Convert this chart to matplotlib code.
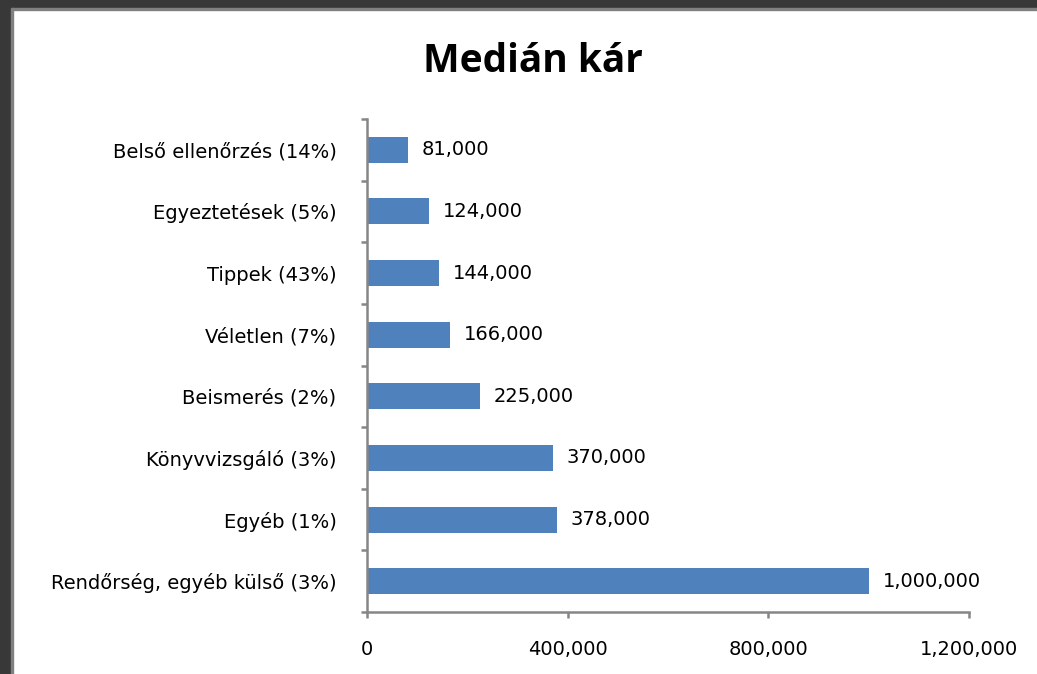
import matplotlib
matplotlib.use("Agg")
import matplotlib.pyplot as plt
from matplotlib.patches import Rectangle
from matplotlib.ticker import FuncFormatter

categories = ["Belső ellenőrzés (14%)", "Egyeztetések (5%)", "Tippek (43%)",
              "Véletlen (7%)", "Beismerés (2%)", "Könyvvizsgáló (3%)",
              "Egyéb (1%)", "Rendőrség, egyéb külső (3%)"]
values = [81000, 124000, 144000, 166000, 225000, 370000, 378000, 1000000]
xticks = [0, 400000, 800000, 1200000]

plt.rcParams['font.family'] = ['DejaVu Sans']

fig = plt.figure(figsize=(10.37, 6.74), dpi=100)
ax = fig.add_axes([367/1037, 1-612/674, (969-367)/1037, (612-119)/674])

pos = list(range(len(categories)))
ax.barh(pos, values, height=0.42, color='#4F81BD')
for p, v in zip(pos, values):
    ax.text(v + 28000, p, f"{v:,}", va='center', ha='left', fontsize=14, color='black')

ax.set_ylim(len(categories) - 0.5, -0.5)
ax.set_xlim(0, 1200000)
ax.set_xticks(xticks)
ax.xaxis.set_major_formatter(FuncFormatter(lambda x, _: f"{int(x):,}"))
ax.set_yticks(pos)
ax.set_yticklabels(categories)
ax.set_yticks([i - 0.5 for i in range(len(categories) + 1)], minor=True)

gray = '#868686'
for s in ['top', 'right']:
    ax.spines[s].set_visible(False)
for s in ['left', 'bottom']:
    ax.spines[s].set_color(gray)
    ax.spines[s].set_linewidth(1.8)
ax.tick_params(axis='y', which='major', length=0, pad=22, labelsize=14)
ax.tick_params(axis='y', which='minor', length=4, width=1.8, color=gray)
ax.tick_params(axis='x', length=4, width=1.8, color=gray, pad=16, labelsize=14)

fig.text(533/1037, 1-61/674, "Medián kár", ha='center', va='center',
         fontsize=28, fontweight='bold', family=['Open Sans', 'DejaVu Sans'])

# dark window frame
fig.patches.append(Rectangle((0, 1-8/674), 1, 8/674, transform=fig.transFigure,
                             color='#383838', zorder=10))
fig.patches.append(Rectangle((11/1037, 1-10/674), 1, 2/674, transform=fig.transFigure,
                             color='#808080', zorder=10))
fig.patches.append(Rectangle((0, 0), 11/1037, 1, transform=fig.transFigure,
                             color='#383838', zorder=10))
fig.patches.append(Rectangle((11/1037, 0), 2/1037, 1-8/674, transform=fig.transFigure,
                             color='#808080', zorder=10))

fig.savefig("out.png", dpi=100)
